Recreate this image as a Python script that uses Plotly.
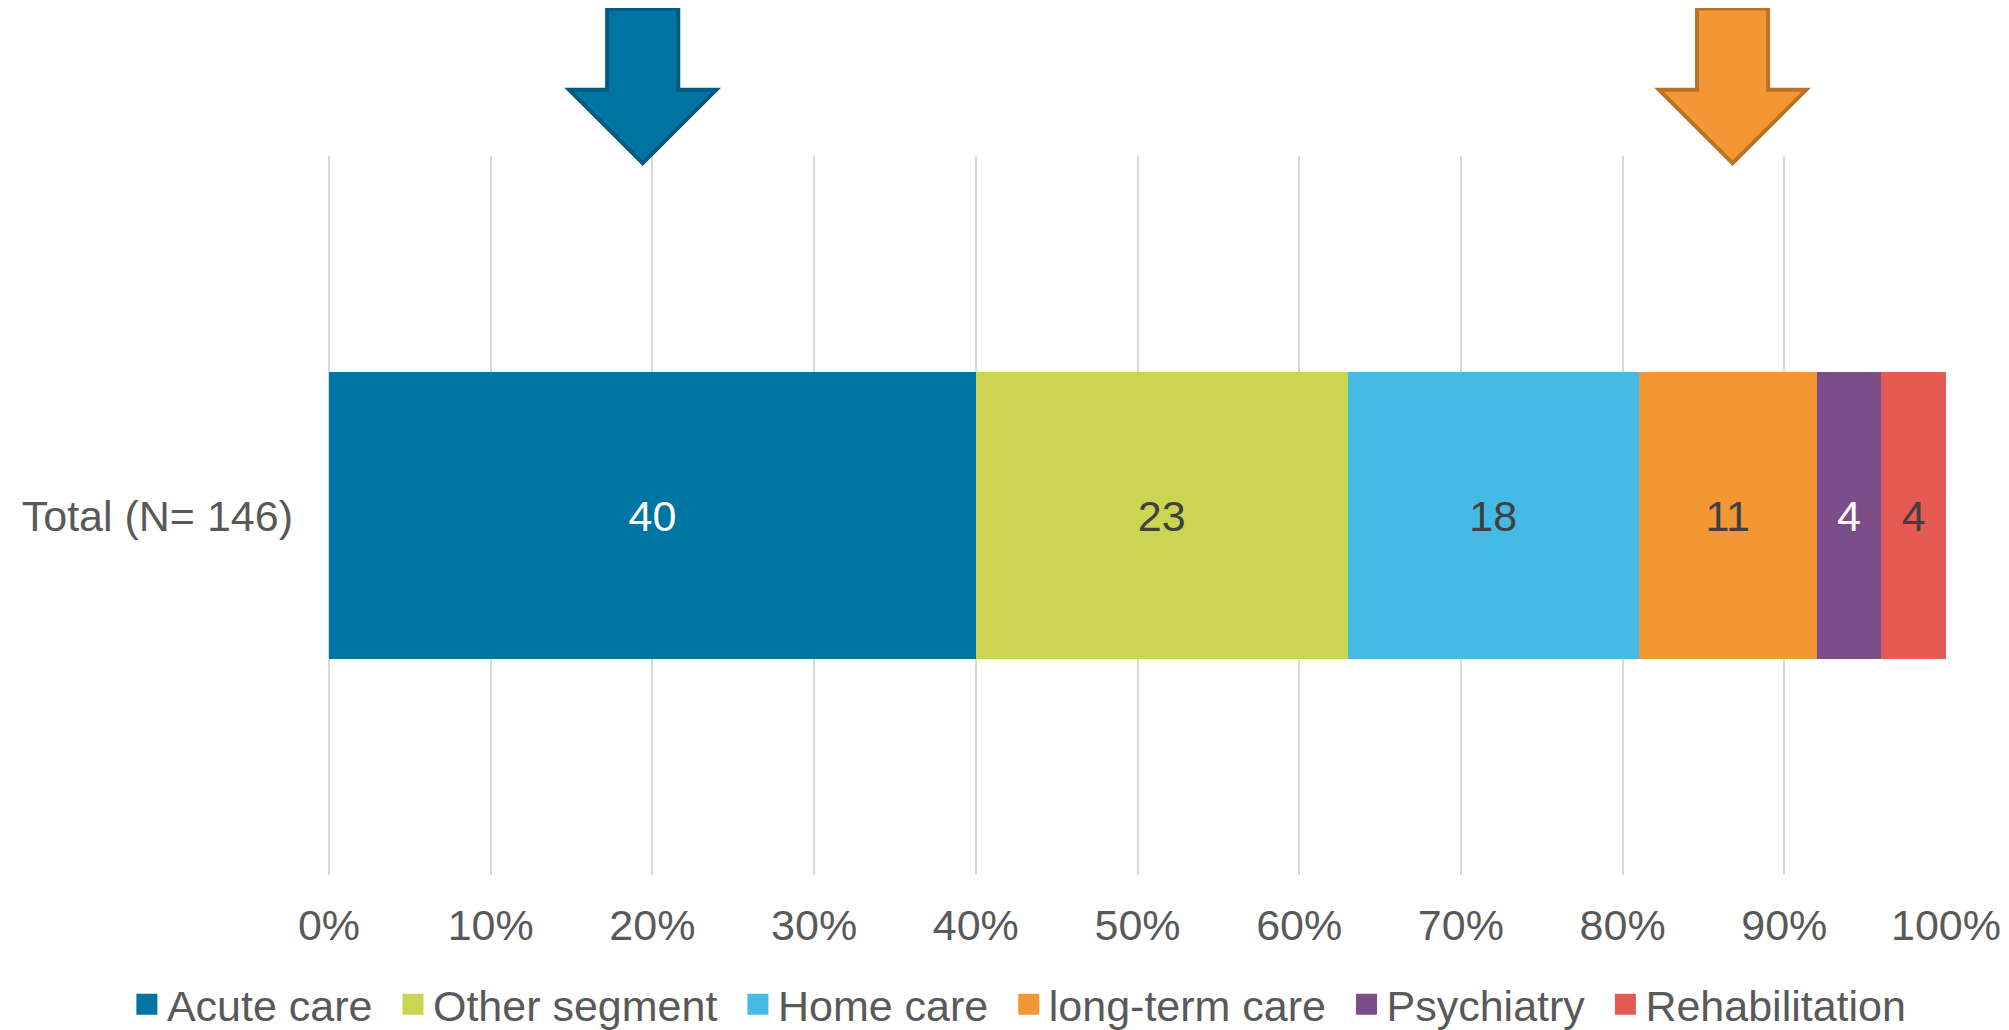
import plotly.graph_objects as go

category = ["Total (N= 146)"]
segments = ["Acute care", "Other segment", "Home care", "long-term care", "Psychiatry", "Rehabilitation"]
values = [40, 23, 18, 11, 4, 4]
colors = ["#0074A2", "#CBD551", "#45BAE4", "#F29733", "#7B4E8A", "#E55B53"]
label_colors = ["#FFFFFF", "#404040", "#404040", "#404040", "#FFFFFF", "#404040"]
tick_vals = [0, 10, 20, 30, 40, 50, 60, 70, 80, 90, 100]
tick_text = [f"{v}%" for v in tick_vals]

# decorative arrows: (tip x in %, fill, outline)
arrows = [(19.4, "#0075A3", "#005B7E"), (86.8, "#F29733", "#B87329")]

FONT = "Liberation Sans, Arial, sans-serif"
FS = 43

fig = go.Figure()
for name, v, c, lc in zip(segments, values, colors, label_colors):
    fig.add_trace(go.Bar(
        y=category, x=[v], name=name, orientation="h",
        marker=dict(color=c, line=dict(width=0)),
        text=[str(v)], textposition="inside", insidetextanchor="middle",
        textangle=0, constraintext="none",
        textfont=dict(color=lc, size=FS, family=FONT),
        hoverinfo="skip", showlegend=False,
    ))
# legend proxies (larger square symbols); small space pads the gap between entries
for i, (name, c) in enumerate(zip(segments, colors)):
    label = name + ("\u00a0\u200a" if i < len(segments) - 1 else "")
    fig.add_trace(go.Scatter(
        x=[None], y=[None], mode="markers", name=label,
        marker=dict(symbol="square", size=16, color=c, line=dict(color=c, width=6)),
        showlegend=True, hoverinfo="skip",
    ))

shapes = []
for tip, fill, line in arrows:
    sw = 2.2   # shaft half-width
    hw = 4.55  # head half-width
    path = (f"M {tip-sw},1.205 L {tip+sw},1.205 L {tip+sw},1.092 L {tip+hw},1.092 "
            f"L {tip},0.99 L {tip-hw},1.092 L {tip-sw},1.092 Z")
    shapes.append(dict(type="path", xref="x", yref="paper", path=path,
                       fillcolor=fill, line=dict(color=line, width=4), layer="above"))

fig.update_layout(
    barmode="stack",
    bargap=0.6,
    width=2009, height=1030,
    margin=dict(l=321, r=71, t=148, b=163, autoexpand=False),
    paper_bgcolor="white", plot_bgcolor="white",
    font=dict(family=FONT, size=FS, color="#595959"),
    shapes=shapes,
    showlegend=True,
    legend=dict(orientation="h", x=-0.125, xanchor="left",
                y=-0.18, yanchor="middle", font=dict(size=FS, color="#595959"),
                traceorder="normal", itemwidth=30, tracegroupgap=0,
                itemsizing="trace"),
    xaxis=dict(range=[0, 100], tickvals=tick_vals, ticktext=tick_text, tickangle=0,
               showgrid=True, gridcolor="#D9D9D9", gridwidth=1.5,
               zeroline=True, zerolinecolor="#D9D9D9", zerolinewidth=1.5,
               showline=False, ticks="", ticklabelstandoff=21,
               tickfont=dict(size=FS, color="#595959"), fixedrange=True),
    yaxis=dict(range=[-0.5, 0.5], showgrid=False, zeroline=False, showline=False,
               ticks="", ticklabelstandoff=35,
               tickfont=dict(size=FS, color="#595959"), fixedrange=True),
)

fig.write_html("out.html")
